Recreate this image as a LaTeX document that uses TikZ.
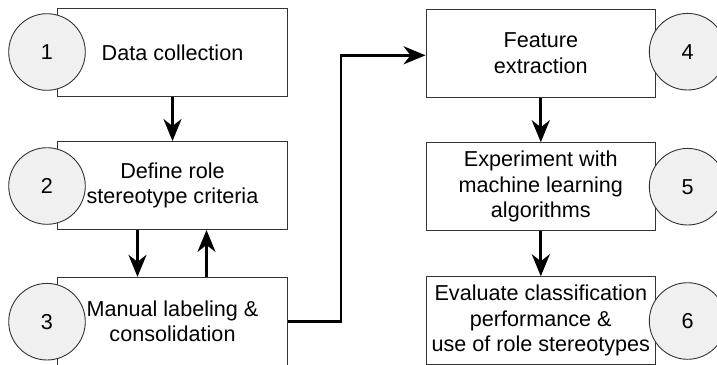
\documentclass[tikz,border=0pt]{standalone}
\usepackage{fontspec}
\setmainfont{Liberation Sans}
\usetikzlibrary{arrows.meta}

\begin{document}
\begin{tikzpicture}[x=1pt,y=-1pt,
  txt/.style={font=\fontsize{21.6}{25.7}\selectfont},
  stepbox/.style={txt, draw=black!80, line width=0.9pt, fill=white,
    minimum width=229.6pt, minimum height=88pt, inner sep=0pt, align=center},
  numcirc/.style={txt, circle, draw=black!80, line width=0.9pt, fill=black!6,
    minimum size=76.6pt, inner sep=0pt},
  flow/.style={line width=2.8pt,
    -{Stealth[length=22pt, width=18pt, inset=7pt]}}]
\clip (0,0) rectangle (717,364);

% left column
\node[stepbox] (b1) at (172.5,52.5) {Data collection};
\node[stepbox] (b2) at (172.5,185.5) {Define role\\stereotype criteria};
\node[stepbox] (b3) at (172.5,321.3) {Manual labeling \&\\consolidation};
\node[numcirc] (c1) at (47,52) {1};
\node[numcirc] (c2) at (47,186) {2};
\node[numcirc] (c3) at (47,321.7) {3};

% right column
\node[stepbox] (b4) at (540.8,53.3) {Feature\\extraction};
\node[stepbox] (b5) at (540.8,186.7) {Experiment with\\machine learning\\algorithms};
\node[stepbox] (b6) at (540.8,320.7) {Evaluate classification\\performance \&\\use of role stereotypes};
\node[numcirc] (c4) at (687.6,51.7) {4};
\node[numcirc] (c5) at (687.6,186.7) {5};
\node[numcirc] (c6) at (687.6,321) {6};

% connectors
\coordinate (bend) at (341,0);
\draw[flow] (b1.south) -- (b2.north);
\draw[flow] ([xshift=-35pt]b2.south) -- ([xshift=-35pt]b3.north);
\draw[flow] ([xshift=34pt]b3.north) -- ([xshift=34pt]b2.south);
\draw[flow] (b3.east) -- (b3.east -| bend) |- ([yshift=-2pt]b4.west);
\draw[flow] (b4.south) -- (b5.north);
\draw[flow] (b5.south) -- (b6.north);
\end{tikzpicture}
\end{document}
